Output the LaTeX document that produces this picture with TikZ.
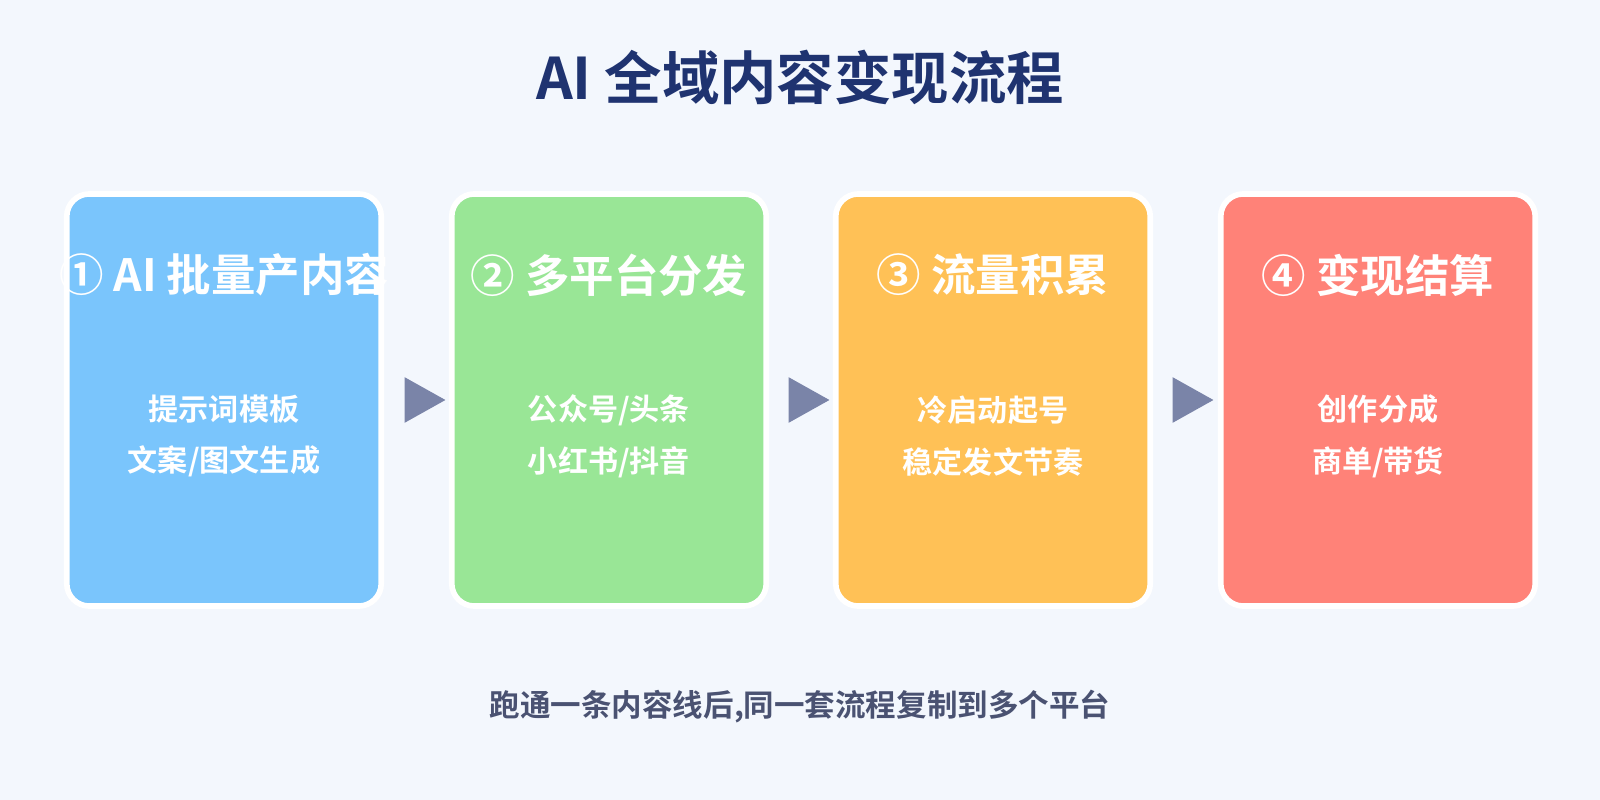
\documentclass[tikz,border=0pt]{standalone}
\usepackage{fontspec}
\setmainfont{Noto Sans CJK SC}[BoldFont={Noto Sans CJK SC Bold}]
\usetikzlibrary{positioning,shapes.geometric}
\definecolor{bgc}{HTML}{F3F7FD}
\definecolor{titc}{HTML}{1F3370}
\definecolor{arrc}{HTML}{7A84A8}
\definecolor{footc}{HTML}{4A5272}
\definecolor{bluec}{HTML}{7AC5FC}
\definecolor{greenc}{HTML}{99E696}
\definecolor{orangec}{HTML}{FFC156}
\definecolor{redc}{HTML}{FF8278}
\tikzset{
  step/.style={draw=white, line width=4pt, rounded corners=16pt, fill=#1,
    minimum width=7.86cm, minimum height=10.3cm},
  head/.style={text=white, font=\bfseries\fontsize{31.6}{35}\selectfont},
  body/.style={text=white, font=\bfseries\fontsize{21.4}{36.7}\selectfont, align=center},
  tri/.style={isosceles triangle, fill=arrc, inner sep=0pt, outer sep=0pt,
    isosceles triangle stretches, minimum width=1.14cm, minimum height=1.02cm}
}
\begin{document}
\begin{tikzpicture}[x=0.025cm,y=-0.025cm]
\useasboundingbox (0,0) rectangle (1600,800);
\fill[bgc] (0,0) rectangle (1600,800);
\node[text=titc, font=\bfseries\fontsize{40.8}{44}\selectfont] (title) at (800,77) {AI 全域内容变现流程};
% steps
\node[step=bluec] (s1) at (224,400) {};
\node[step=greenc] (s2) at (609,400) {};
\node[step=orangec] (s3) at (993,400) {};
\node[step=redc] (s4) at (1378,400) {};
\node[head] (h1) at (224,275) {① AI 批量产内容};
\node[head] (h2) at (609,275) {② 多平台分发};
\node[head] (h3) at (993,275) {③ 流量积累};
\node[head] (h4) at (1378,275) {④ 变现结算};
\node[body] (t1) at (224,436) {提示词模板\\文案/图文生成};
\node[body] (t2) at (609,436) {公众号/头条\\小红书/抖音};
\node[body] (t3) at (993,436) {冷启动起号\\稳定发文节奏};
\node[body] (t4) at (1378,436) {创作分成\\商单/带货};
% arrows
\node[tri] (a1) at (418,400) {};
\node[tri] (a2) at (802,400) {};
\node[tri] (a3) at (1186,400) {};
\node[text=footc, font=\bfseries\fontsize{21.7}{25}\selectfont] (foot) at (800,707) {跑通一条内容线后,同一套流程复制到多个平台};
\end{tikzpicture}
\end{document}
